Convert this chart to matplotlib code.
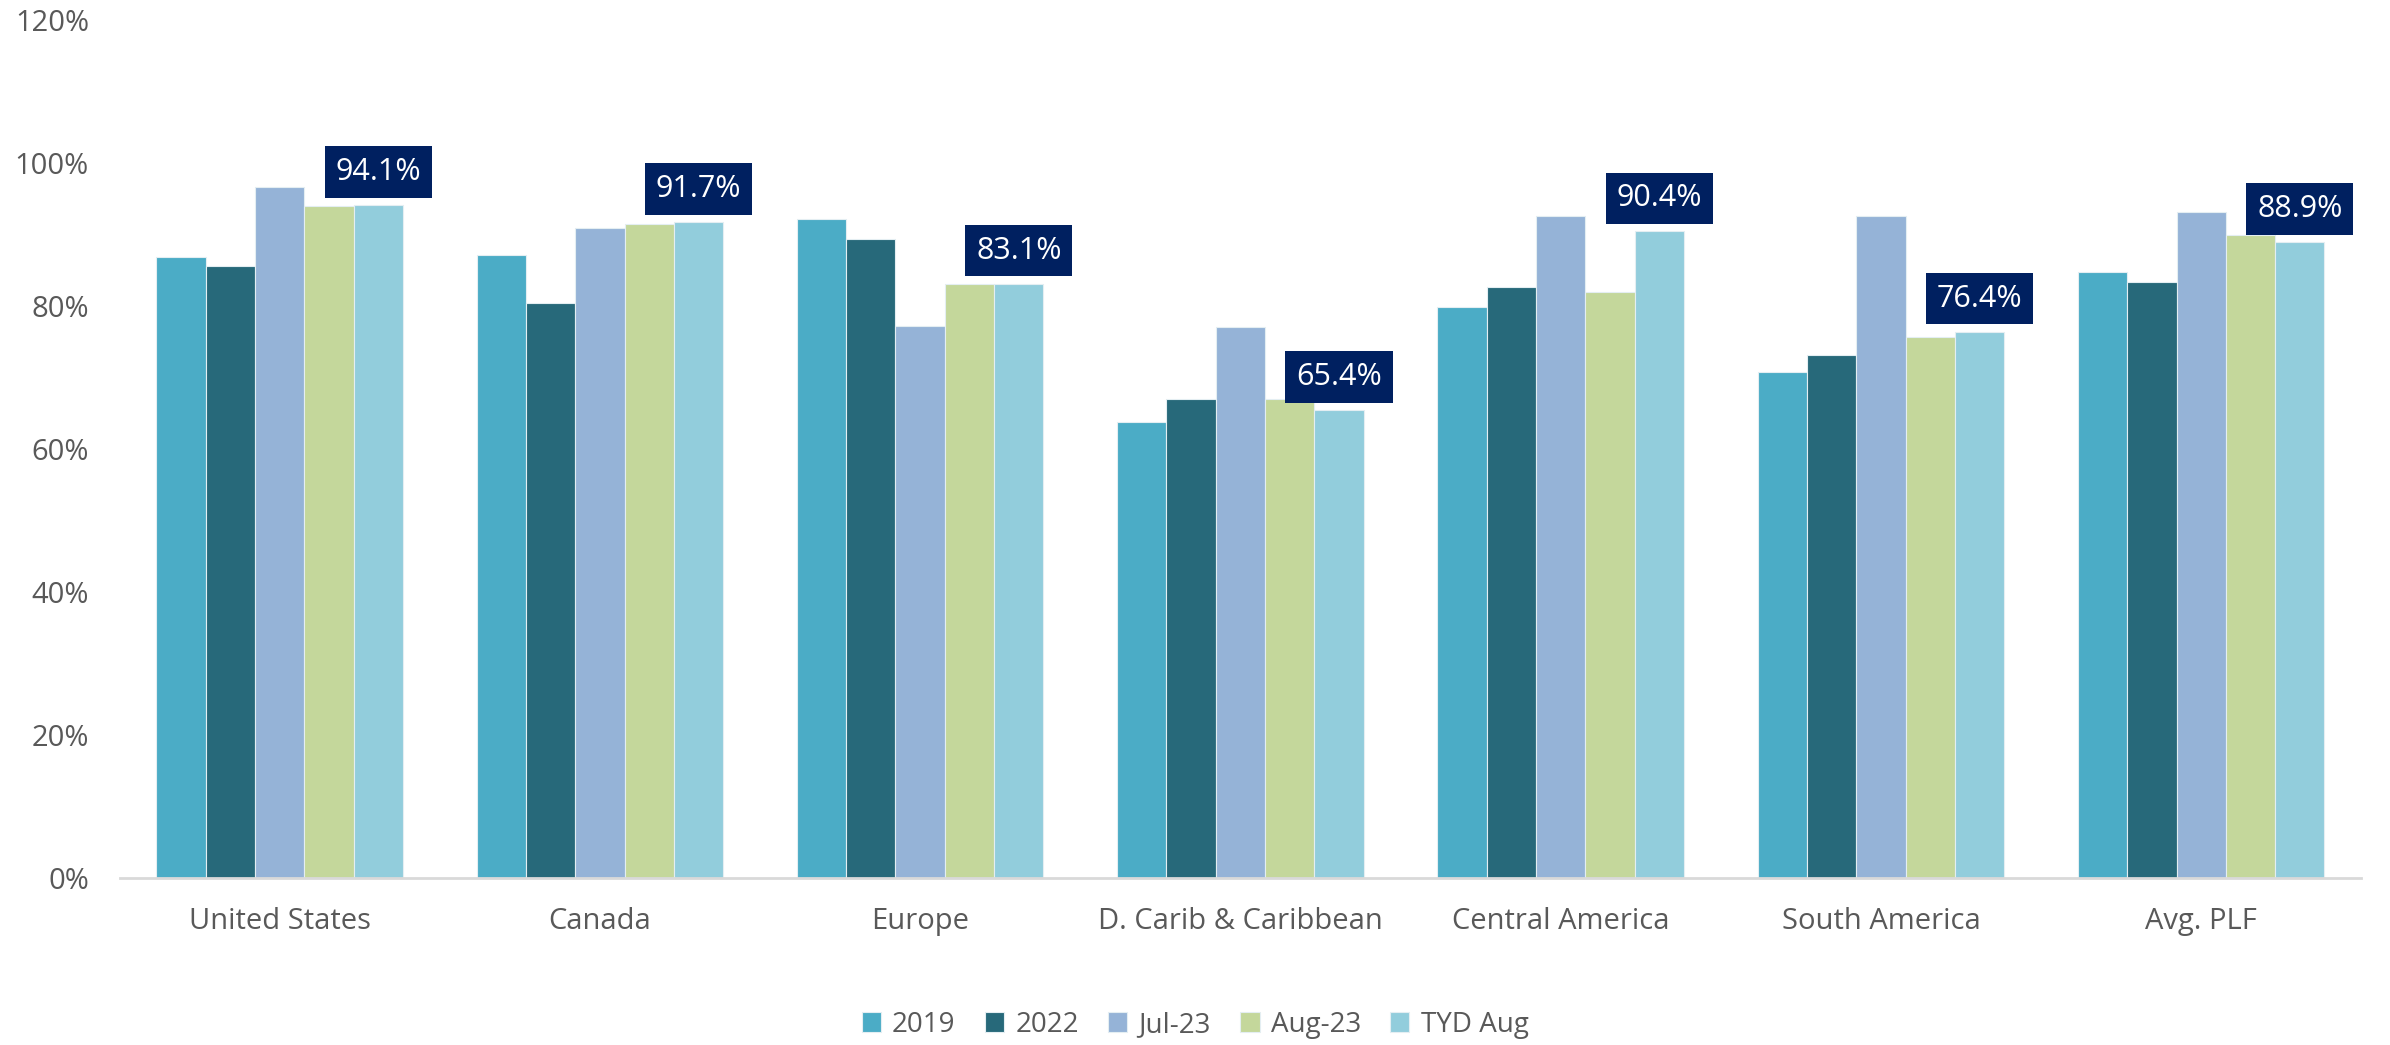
"""Passenger load factor by region, grouped bars with highlighted YTD labels."""

import matplotlib
matplotlib.use("Agg")
import matplotlib.pyplot as plt
from matplotlib.ticker import FuncFormatter
import numpy as np

plt.rcParams["font.family"] = ["Open Sans", "DejaVu Sans"]

REGIONS = ["United States", "Canada", "Europe", "D. Carib & Caribbean",
           "Central America", "South America", "Avg. PLF"]
SERIES = ["2019", "2022", "Jul-23", "Aug-23", "TYD Aug"]

PLF_2019 = [86.9, 87.1, 92.1, 63.8, 79.8, 70.8, 84.7]
PLF_2022 = [85.6, 80.4, 89.4, 66.9, 82.6, 73.1, 83.3]
PLF_JUL23 = [96.6, 90.9, 77.2, 77.0, 92.5, 92.5, 93.1]
PLF_AUG23 = [93.9, 91.5, 83.0, 67.0, 81.9, 75.6, 89.9]
PLF_YTD = [94.1, 91.7, 83.1, 65.4, 90.4, 76.4, 88.9]

COLORS = ["#4BACC6", "#27697A", "#95B3D7", "#C4D79B", "#92CDDC"]
TEXT_GREY = "#595959"
LABEL_NAVY = "#002060"


def main() -> None:
    fig = plt.figure(figsize=(23.9, 10.45), dpi=100)
    ax = fig.add_axes([0.050, 0.160, 0.938, 0.821])

    x = np.arange(len(REGIONS))
    width = 0.154
    values = [PLF_2019, PLF_2022, PLF_JUL23, PLF_AUG23, PLF_YTD]
    for k, (name, vals, color) in enumerate(zip(SERIES, values, COLORS)):
        offset = (k - 2) * width
        ax.bar(x + offset, vals, width, color=color, label=name,
               edgecolor="#E4EEF2", linewidth=0.8, zorder=2)

    # navy call-outs above the year-to-date bar
    for i, v in enumerate(PLF_YTD):
        ax.annotate(f"{v:.1f}%", xy=(x[i] + 2 * width, v), xytext=(0, 13),
                    textcoords="offset points", ha="center", va="bottom",
                    fontsize=22, color="white",
                    bbox={"boxstyle": "square,pad=0.35", "facecolor": LABEL_NAVY,
                          "edgecolor": "none"}, zorder=3)

    ax.set_xlim(-0.5, len(REGIONS) - 0.5)
    ax.set_ylim(0, 120)
    ax.set_yticks(np.arange(0, 121, 20))
    ax.yaxis.set_major_formatter(FuncFormatter(lambda v, _: f"{v:.0f}%"))
    ax.set_xticks(x)
    ax.set_xticklabels(REGIONS)
    ax.tick_params(axis="y", length=0, pad=22, labelsize=21, labelcolor=TEXT_GREY)
    ax.tick_params(axis="x", length=0, pad=21, labelsize=21, labelcolor=TEXT_GREY)

    for side in ("top", "right", "left"):
        ax.spines[side].set_visible(False)
    ax.spines["bottom"].set_color("#D9D9D9")
    ax.spines["bottom"].set_linewidth(2)
    ax.spines["bottom"].set_zorder(3)

    fig.legend(loc="lower center", bbox_to_anchor=(0.5, -0.018), ncol=5,
               frameon=False, fontsize=20, labelcolor=TEXT_GREY,
               handlelength=0.7, handleheight=0.7, handletextpad=0.4,
               columnspacing=1.05)

    fig.savefig("out.png", dpi=100)


if __name__ == "__main__":
    main()
